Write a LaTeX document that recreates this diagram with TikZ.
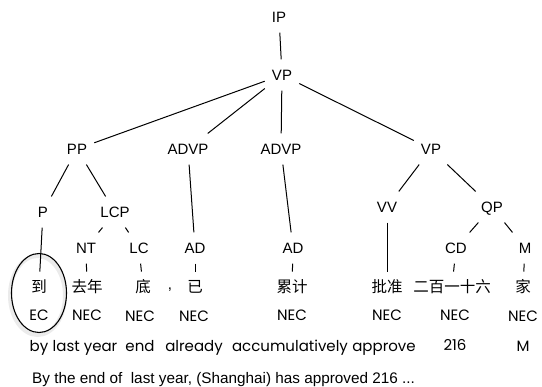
\documentclass[tikz,border=0pt]{standalone}
\usepackage{fontspec}
\usetikzlibrary{shapes.geometric}
\setmainfont{Liberation Sans}
\newfontfamily\cjk{Noto Sans CJK SC}
\newfontfamily\glossfont{Poppins}
\begin{document}
\begin{tikzpicture}[x=1pt,y=-1pt,
  lab/.style={font=\fontsize{15}{15}\selectfont, text height=10.7pt, text depth=0pt, inner xsep=7pt, inner ysep=10pt},
  zh/.style={font=\cjk\fontsize{15.5}{15.5}\selectfont, text height=12.8pt, text depth=1.5pt, inner xsep=3pt, inner ysep=8pt},
  tag/.style={font=\glossfont\fontsize{15}{15}\selectfont, inner sep=0pt},
  gl/.style={font=\glossfont\fontsize{15}{15}\selectfont, inner sep=0pt, anchor=base},
  link/.style={draw=black, line width=1pt},
  ring/.style={draw=black, line width=1.1pt, ellipse, minimum width=55pt, minimum height=79pt},
  glow/.style={draw=black!8, line width=4pt}
]
\useasboundingbox (0,0) rectangle (542,387);
% shadow of the ring
\draw[glow] (37.5,295.5) ellipse [x radius=27.5, y radius=39.5];
% phrase labels
\node[lab] (IP) at (279,17) {IP};
\node[lab] (VP) at (282,75) {VP};
\node[lab] (PP) at (77,149) {PP};
\node[lab] (ADVP1) at (188,149) {ADVP};
\node[lab] (ADVP2) at (281,149) {ADVP};
\node[lab] (VP2) at (431,149) {VP};
\node[lab] (P) at (43,212) {P};
\node[lab] (LCP) at (115,212) {LCP};
\node[lab] (VV) at (387,207) {VV};
\node[lab] (QP) at (492,207) {QP};
\node[lab] (NT) at (86,248) {NT};
\node[lab] (LC) at (139,248) {LC};
\node[lab] (AD1) at (195,248) {AD};
\node[lab] (AD2) at (293,248) {AD};
\node[lab] (CD) at (456,248) {CD};
\node[lab] (M) at (525,248) {M};
% chinese words
\node[zh] (z1) at (39,287) {到};
\node[zh] (z2) at (87,287) {去年};
\node[zh] (z3) at (143,287) {底};
\node[font=\fontsize{15}{15}\selectfont, inner sep=0pt, anchor=base] (comma) at (170,290) {,};
\node[zh] (z4) at (195,287) {已};
\node[zh] (z5) at (292,287) {累计};
\node[zh] (z6) at (387,287) {批准};
\node[zh] (z7) at (452,287) {二百一十六};
\node[zh] (z8) at (523,287) {家};
% EC / NEC
\node[tag] (t1) at (39,315) {EC};
\node[tag] (t2) at (87,315) {NEC};
\node[tag] (t3) at (140,316) {NEC};
\node[tag] (t4) at (194,316) {NEC};
\node[tag] (t5) at (292,315) {NEC};
\node[tag] (t6) at (387,315) {NEC};
\node[tag] (t7) at (455,315) {NEC};
\node[tag] (t8) at (523,316) {NEC};
% glosses
\node[gl] (g1) at (39,352) {by};
\node[gl] (g2) at (85,352) {last year};
\node[gl] (g3) at (140,352) {end};
\node[gl] (g4) at (194,352) {already};
\node[gl] (g5) at (290,352) {accumulatively};
\node[gl] (g6) at (384,352) {approve};
\node[gl] (g7) at (455,351) {216};
\node[gl] (g8) at (523,352) {M};
% sentence
\node[font=\fontsize{15.3}{15.3}\selectfont, inner sep=0pt, anchor=base west] (sent) at (32,384) {By the end of\ \ last year, (Shanghai) has approved 216 ...};
% ellipse
\node[ring] (ring) at (39,293) {};
% edges
\draw[link] (IP) -- (VP);
\draw[link] (VP) -- (PP);
\draw[link] (VP) -- (ADVP1);
\draw[link] (VP) -- (ADVP2);
\draw[link] (VP) -- (VP2);
\draw[link] (PP) -- (P);
\draw[link] (PP) -- (LCP);
\draw[link] (P) -- (z1);
\draw[link] (LCP) -- (NT);
\draw[link] (LCP) -- (LC);
\draw[link] (NT) -- (z2);
\draw[link] (LC) -- (z3);
\draw[link] (ADVP1) -- (AD1);
\draw[link] (AD1) -- (z4);
\draw[link] (ADVP2) -- (AD2);
\draw[link] (AD2) -- (z5);
\draw[link] (VP2) -- (VV);
\draw[link] (VP2) -- (QP);
\draw[link] (VV) -- (z6);
\draw[link] (QP) -- (CD);
\draw[link] (QP) -- (M);
\draw[link] (CD) -- (z7);
\draw[link] (M) -- (z8);
\end{tikzpicture}
\end{document}
